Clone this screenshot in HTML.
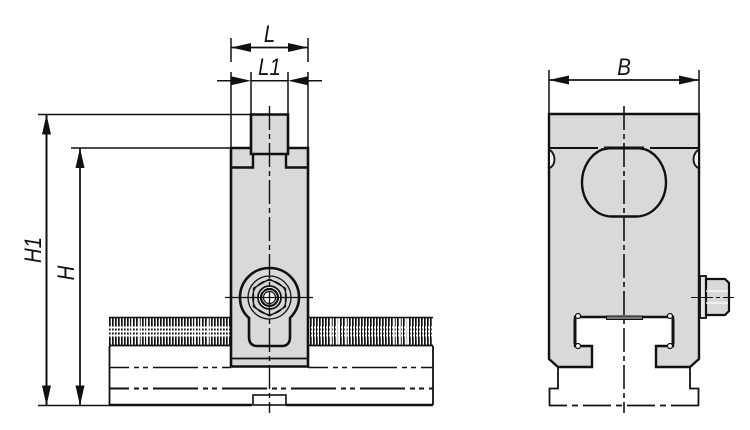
<!DOCTYPE html>
<html><head><meta charset="utf-8">
<style>html,body{margin:0;padding:0;background:#fff}svg{display:block}
text{font-family:"Liberation Sans",sans-serif;font-style:italic;font-size:24px;fill:#111}</style></head>
<body>
<svg width="750" height="430" viewBox="0 0 750 430" xmlns="http://www.w3.org/2000/svg">
<defs>
<pattern id="h" x="109" y="0" width="3" height="430" patternUnits="userSpaceOnUse"><rect width="1.7" height="430" fill="#111"/></pattern>
<marker id="a" viewBox="0 0 20 9" refX="0" refY="4.5" markerWidth="20" markerHeight="9" markerUnits="userSpaceOnUse" orient="auto"><path d="M0 4.5L20 0V9Z" fill="#111"/></marker>
</defs>

<!-- rack left view -->
<g>
<rect x="109" y="317" width="122" height="29" fill="url(#h)"/>
<rect x="308" y="317" width="125" height="29" fill="url(#h)"/>
<path d="M132 317V346M139 317V346M147 317V346M195 317V346M201 317V346M208 317V346M331 317V346M338 317V346M346 317V346M394 317V346M400 317V346M407 317V346" stroke="#fff" stroke-width="1.6"/>
<path d="M109 317.5H231M308 317.5H433" stroke="#111" stroke-width="1.5"/>
<path d="M109 345.5H231M308 345.5H433" stroke="#111" stroke-width="1.8"/>
<path d="M109 327.5H231M308 327.5H433M109 331.5H231M308 331.5H433M109 335.5H231M308 335.5H433" stroke="#fff" stroke-width="2" stroke-dasharray="2 1"/>
<path d="M109.5 346V405M433 346V405" stroke="#111" stroke-width="1.8"/>
<path d="M109 367.5H231M308 367.5H433" stroke="#111" stroke-width="1.5" stroke-dasharray="45 5 5 4 5 5" stroke-dashoffset="25"/>
<path d="M109 388.5H433" stroke="#111" stroke-width="2" stroke-dasharray="45 5 5 4 5 5" stroke-dashoffset="25"/>
<path d="M109 405H252M286 405H433" stroke="#111" stroke-width="2.4"/>
<rect x="253" y="395" width="33" height="10" fill="#fff" stroke="#111" stroke-width="1.6"/>
</g>

<!-- left body -->
<path d="M231 148H251V114.5H288V148H308V366.5H231Z" fill="#d9d9d9"/>
<path d="M288 148H308V366.5H231V148H251" fill="none" stroke="#111" stroke-width="2.6"/>
<path d="M251 148V114.5H288V154H251Z" fill="#d9d9d9" stroke="#111" stroke-width="2.6"/>
<path d="M231 167.5H253V154M308 167.5H286V154" fill="none" stroke="#111" stroke-width="2.4"/>
<path d="M231 358.5H308" stroke="#111" stroke-width="1.8"/>

<!-- keyhole -->
<path d="M249 318C242 312 240 305 240 297.5C240 281 253 268 269.5 268C286 268 299 281 299 297.5C299 305 296 312 290 318V337C290 343 287 346 282 346H257C252 346 249 343 249 337Z" fill="#d9d9d9" stroke="#111" stroke-width="2.6"/>
<circle cx="269.5" cy="297.5" r="21.5" fill="none" stroke="#111" stroke-width="1.3"/>
<path d="M269.5 279L285.5 288.2V306.8L269.5 316L253.5 306.8V288.2Z" fill="none" stroke="#111" stroke-width="1.3"/>
<circle cx="269.5" cy="297.5" r="17" fill="none" stroke="#111" stroke-width="1"/>
<circle cx="269.5" cy="297.5" r="11.5" fill="#fff" stroke="#111" stroke-width="1.8"/>
<circle cx="269.5" cy="297.5" r="8.5" fill="#d9d9d9" stroke="#111" stroke-width="2.2"/>
<circle cx="269.5" cy="297.5" r="6" fill="#fff" stroke="#111" stroke-width="1.2"/>
<path d="M225 297.5H313" stroke="#111" stroke-width="1.2"/>
<path d="M269.5 106V413" stroke="#111" stroke-width="1.4" stroke-dasharray="24 4 5 4"/>

<!-- right rail -->
<path d="M558 367V388.5H549.5V405.5M690 367V388.5H698.5V405.5" fill="none" stroke="#111" stroke-width="1.8"/>
<path d="M549 405.5H699" stroke="#111" stroke-width="1.8" stroke-dasharray="28 5 6 5" stroke-dashoffset="10"/>

<!-- right body -->
<path d="M549 114H699V359L690 367H656V346H673V317H575V346H592V367H558L549 359Z" fill="#d9d9d9" stroke="#111" stroke-width="2.4"/>
<path d="M549 148H598M650 148H699" stroke="#111" stroke-width="2"/>
<path d="M601 150C590 155 582 168 582 182C582 202 596 216.5 612 216.5H636C652 216.5 666 202 666 182C666 168 658 155 647 150C640 147 608 147 601 150Z" fill="#d9d9d9" stroke="#111" stroke-width="2.4"/>
<path d="M604 148H644" stroke="#111" stroke-width="3"/>
<path d="M550 150C556 155 556 164 550 168M698 150C692 155 692 164 698 168" fill="#eee" stroke="#111" stroke-width="1.8"/>
<path d="M575 319V344M673 319V344" stroke="#111" stroke-width="3"/>
<circle cx="578" cy="316" r="2.5" fill="#fff" stroke="#111" stroke-width="1.2"/>
<circle cx="670" cy="316" r="2.5" fill="#fff" stroke="#111" stroke-width="1.2"/>
<circle cx="578" cy="346" r="2.5" fill="#fff" stroke="#111" stroke-width="1.2"/>
<circle cx="670" cy="346" r="2.5" fill="#fff" stroke="#111" stroke-width="1.2"/>
<rect x="606.5" y="316" width="36" height="3.5" fill="#777" stroke="#111" stroke-width="1"/>
<path d="M624 106V413" stroke="#111" stroke-width="1.6" stroke-dasharray="24 4 5 4"/>

<!-- bolt -->
<rect x="700" y="276" width="6" height="42" fill="#e4e4e4" stroke="#111" stroke-width="1.8"/>
<path d="M706 279H725L729 283V311L725 315H706Z" fill="#d9d9d9" stroke="#111" stroke-width="2.2"/>
<path d="M706 291H728M706 303H728" stroke="#fff" stroke-width="1.2"/>
<path d="M691 297.5H734" stroke="#111" stroke-width="1.1" stroke-dasharray="22 3 4 3"/>

<!-- dimensions -->
<g stroke="#111" stroke-width="1.5" fill="none">
<path d="M231 38V62M308 38V62M231 72V148M308 72V148M251 72V114M288 72V114"/>
<path d="M231 47.5H308" marker-start="url(#a)"/>
<path d="M308 47.5H231" marker-start="url(#a)"/>
<path d="M217 80.7H231M251 80.7H288M308 80.7H322"/>
<path d="M549 70V114M699 70V114"/>
<path d="M549 80H699" marker-start="url(#a)"/>
<path d="M699 80H549" marker-start="url(#a)"/>
<path d="M38 114.5H251M71 148H231M38 405.5H109"/>
<path d="M46.5 114.5V405.5" stroke-width="2" marker-start="url(#a)"/>
<path d="M46.5 405.5V114.5" stroke-width="2" marker-start="url(#a)"/>
<path d="M80 148V405.5" marker-start="url(#a)"/>
<path d="M80 405.5V148" marker-start="url(#a)"/>
</g>
<path d="M251 80.7L231 76.2V85.2ZM288 80.7L308 76.2V85.2Z" fill="#111"/>

<text transform="translate(269.5,42) scale(.85,1)" text-anchor="middle">L</text>
<text transform="translate(269.5,75) scale(.85,1)" text-anchor="middle">L1</text>
<text transform="translate(624,75) scale(.85,1)" text-anchor="middle">B</text>
<text transform="translate(41,250) rotate(-90) scale(.85,1)" text-anchor="middle">H1</text>
<text transform="translate(74,273) rotate(-90) scale(.85,1)" text-anchor="middle">H</text>
</svg>
</body></html>
